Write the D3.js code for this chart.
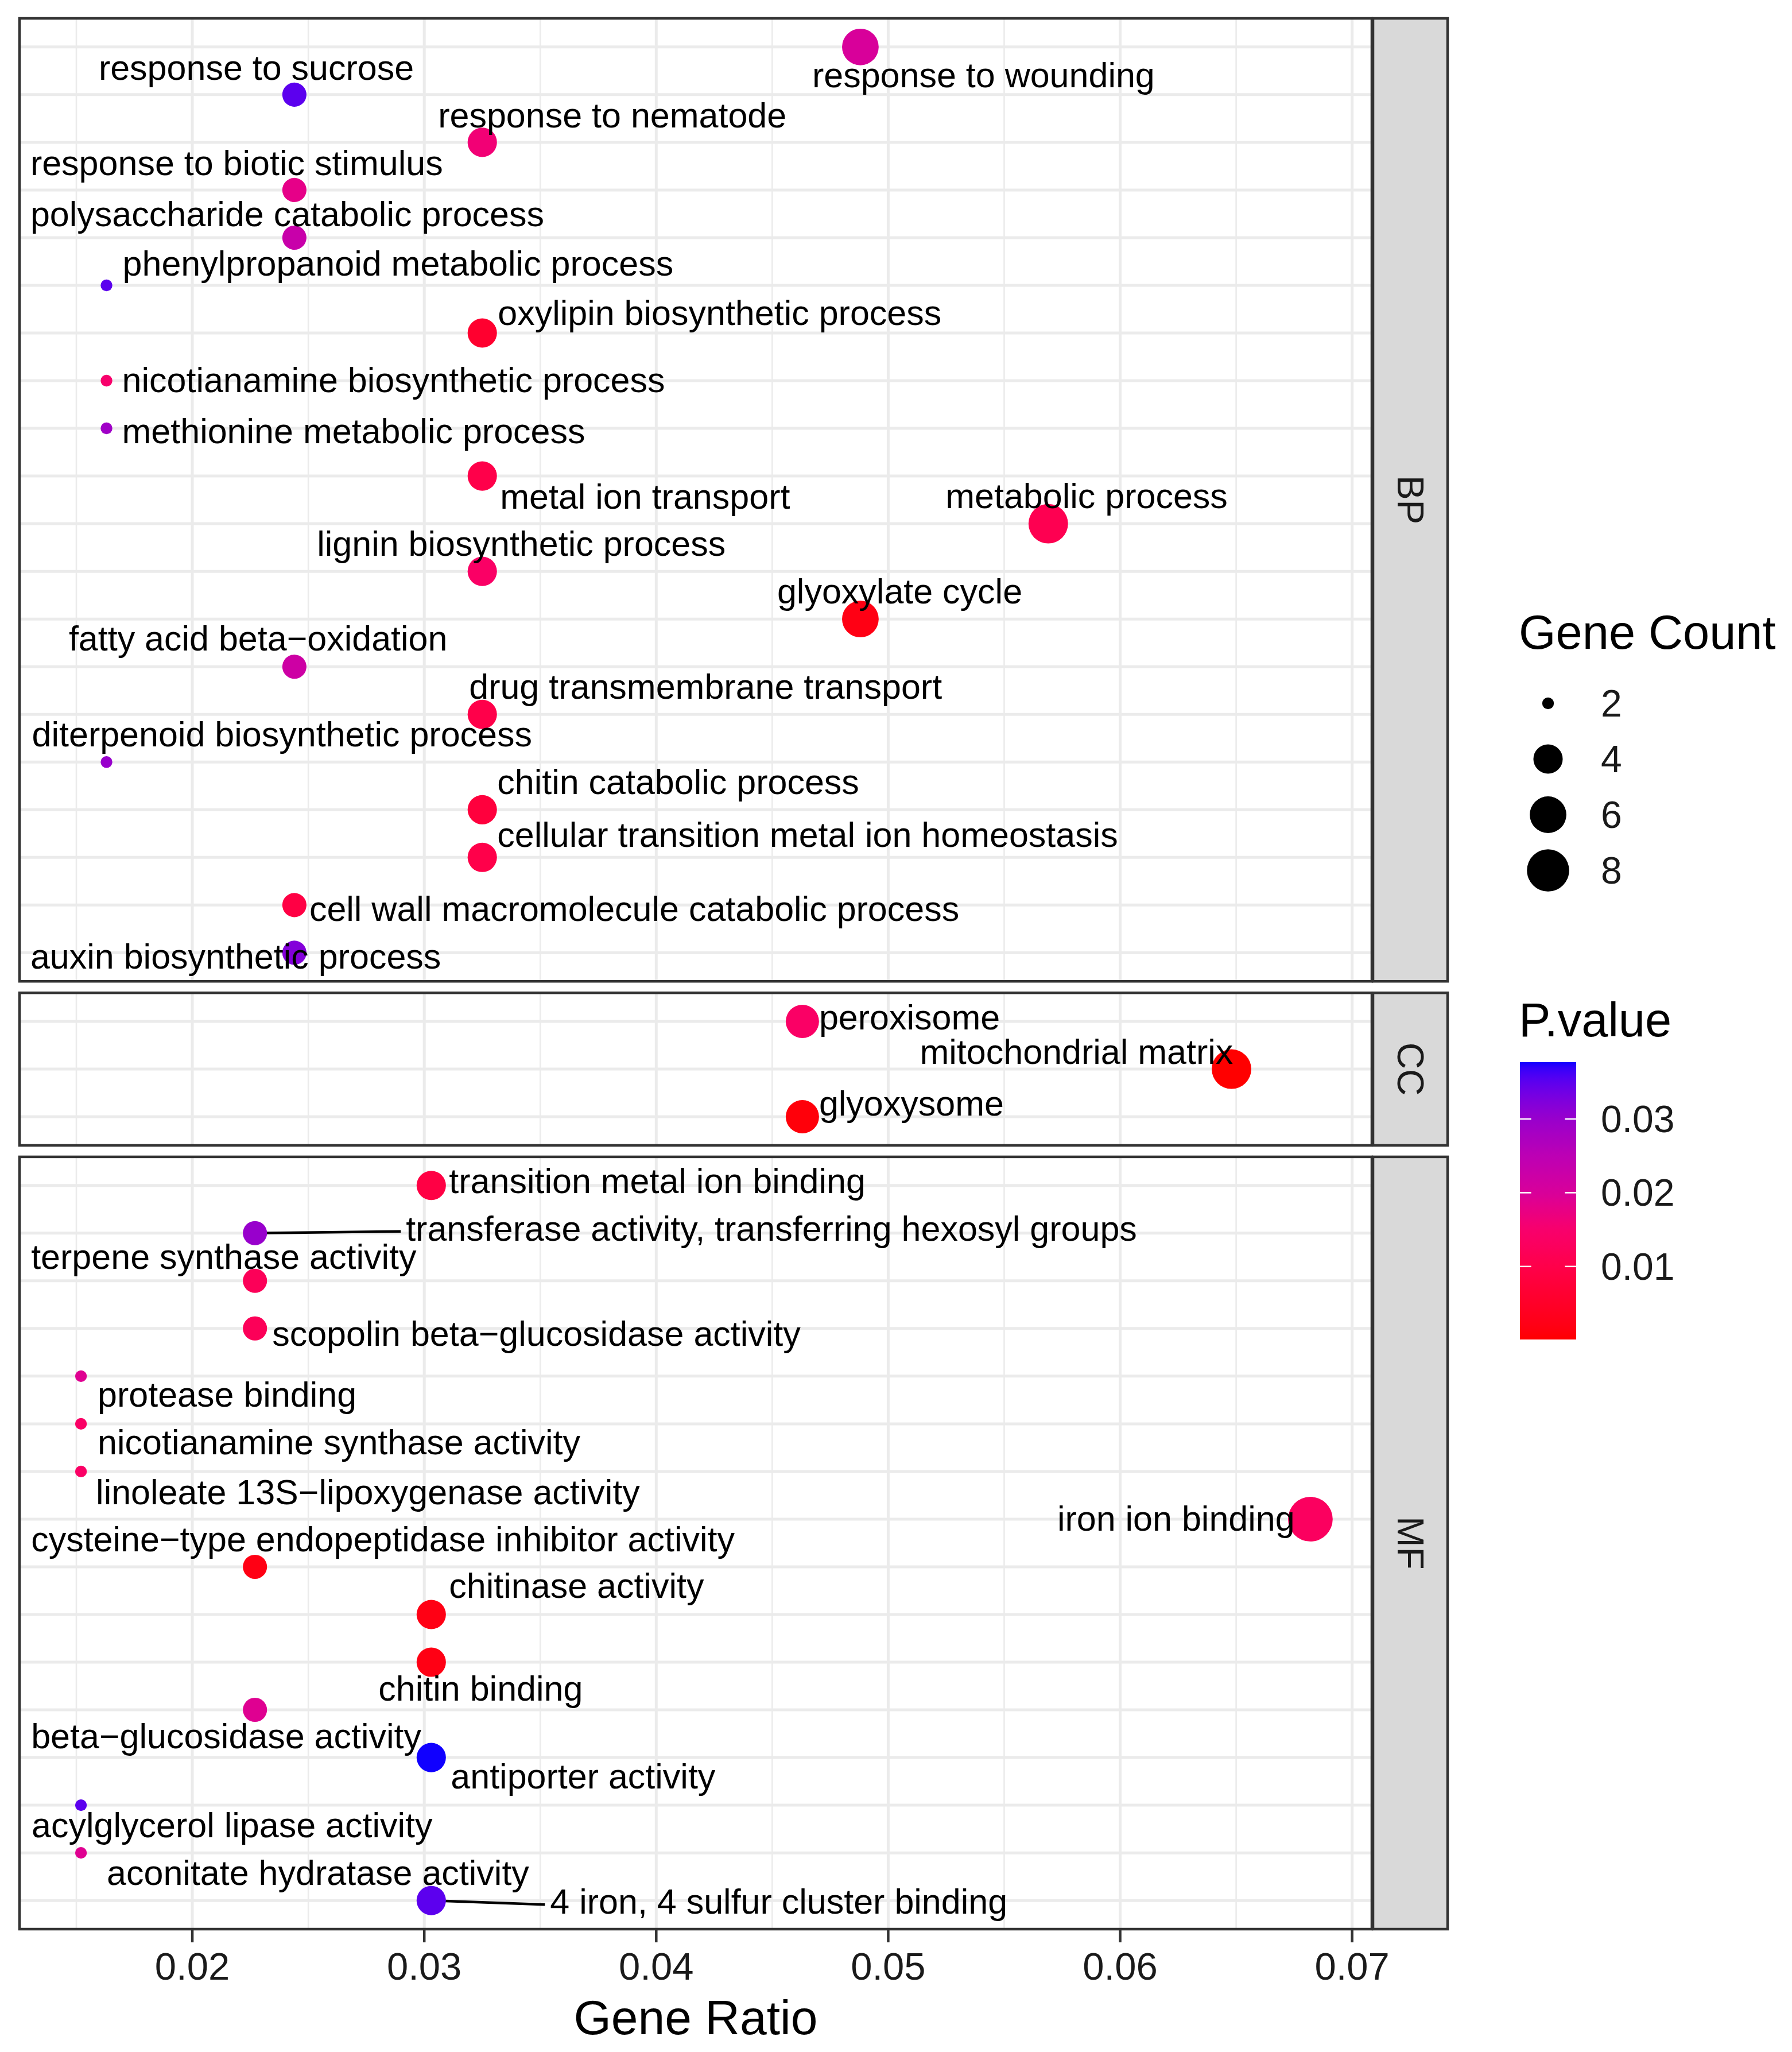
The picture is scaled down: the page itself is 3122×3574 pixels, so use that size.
<!DOCTYPE html>
<html>
<head>
<meta charset="utf-8">
<script src="https://cdn.jsdelivr.net/npm/d3@7"></script>
<style>
  body { margin: 0; background: #fff; }
  svg { display: block; }
  text { font-family: "Liberation Sans", Arial, Helvetica, sans-serif; }
</style>
</head>
<body>
<svg id="chart"></svg>
<script>
var width = 3122, height = 3574;

// ---- data ----
var ontologies = ["BP", "CC", "MF"];

var bpTerms = ["response to wounding", "response to sucrose", "response to nematode",
  "response to biotic stimulus", "polysaccharide catabolic process",
  "phenylpropanoid metabolic process", "oxylipin biosynthetic process",
  "nicotianamine biosynthetic process", "methionine metabolic process",
  "metal ion transport", "metabolic process", "lignin biosynthetic process",
  "glyoxylate cycle", "fatty acid beta\u2212oxidation", "drug transmembrane transport",
  "diterpenoid biosynthetic process", "chitin catabolic process",
  "cellular transition metal ion homeostasis", "cell wall macromolecule catabolic process",
  "auxin biosynthetic process"];
var bpCount = [6, 3, 4, 3, 3, 2, 4, 2, 2, 4, 7, 4, 6, 3, 4, 2, 4, 4, 3, 3];
var bpRatio = [0.0488, 0.0244, 0.0325, 0.0244, 0.0244, 0.0163, 0.0325, 0.0163, 0.0163, 0.0325,
  0.0569, 0.0325, 0.0488, 0.0244, 0.0325, 0.0163, 0.0325, 0.0325, 0.0244, 0.0244];
var bpPvalue = [0.020, 0.035, 0.016, 0.018, 0.023, 0.035, 0.006, 0.015, 0.029, 0.010,
  0.011, 0.014, 0.002, 0.022, 0.010, 0.030, 0.008, 0.010, 0.009, 0.032];

var ccTerms = ["peroxisome", "mitochondrial matrix", "glyoxysome"];
var ccCount = [5, 7, 5];
var ccRatio = [0.0463, 0.0648, 0.0463];
var ccPvalue = [0.014, 0.0001, 0.001];

var mfTerms = ["transition metal ion binding", "transferase activity, transferring hexosyl groups",
  "terpene synthase activity", "scopolin beta\u2212glucosidase activity", "protease binding",
  "nicotianamine synthase activity", "linoleate 13S\u2212lipoxygenase activity", "iron ion binding",
  "cysteine\u2212type endopeptidase inhibitor activity", "chitinase activity", "chitin binding",
  "beta\u2212glucosidase activity", "antiporter activity", "acylglycerol lipase activity",
  "aconitate hydratase activity", "4 iron, 4 sulfur cluster binding"];
var mfCount = [4, 3, 3, 3, 2, 2, 2, 9, 3, 4, 4, 3, 4, 2, 2, 4];
var mfRatio = [0.0303, 0.0227, 0.0227, 0.0227, 0.0152, 0.0152, 0.0152, 0.0682,
  0.0227, 0.0303, 0.0303, 0.0227, 0.0303, 0.0152, 0.0152, 0.0303];
var mfPvalue = [0.009, 0.030, 0.012, 0.012, 0.019, 0.014, 0.014, 0.013,
  0.002, 0.002, 0.002, 0.019, 0.0377, 0.035, 0.019, 0.035];

var xTicks = [0.02, 0.03, 0.04, 0.05, 0.06, 0.07];
var sizeBreaks = [2, 4, 6, 8];
var pBreaks = [0.01, 0.02, 0.03];

// colour ramp as it shows in the legend bar (red low -> blue high)
var pStopValues = [0.005, 0.010, 0.015, 0.020, 0.025, 0.030, 0.035];
var pStopColors = ["#ff0028", "#ff004a", "#f8006c", "#d8009a", "#bc00b4", "#9800cc", "#5c00ee"];
var pLowColor = "#ff0000", pHighColor = "#1000ff";

// where the repelled labels ended up, px from their point [dx, dy(baseline), segment?]
var bpLabelPos = [[-84, 70], [-341, -26], [-77, -26], [-460, -26], [-460, -20], [28, -17],
  [27, -14], [27, 20], [27, 26], [31, 57], [-179, -27], [-288, -27], [-145, -27], [-393, -28],
  [-23, -27], [-130, -27], [26, -27], [26, -18], [26, 28], [-460, 28]];
var ccLabelPos = [[29, 14], [-543, -9], [29, -2]];
var mfLabelPos = [[31, 13], [263, 13, 1], [-390, -21], [30, 30], [29, 53], [29, 53], [26, 57],
  [-441, 20], [-390, -27], [31, -29], [-92, 67], [-390, 67], [34, 54], [-86, 56], [45, 56],
  [207, 23, 1]];

// ---- build rows ----
function rows(terms, count, ratio, pv, lab) {
  return terms.map(function(t, i) {
    return {term: t, count: count[i], ratio: ratio[i], p: pv[i], lab: lab[i]};
  });
}
var facets = [
  {name: "BP", rows: rows(bpTerms, bpCount, bpRatio, bpPvalue, bpLabelPos)},
  {name: "CC", rows: rows(ccTerms, ccCount, ccRatio, ccPvalue, ccLabelPos)},
  {name: "MF", rows: rows(mfTerms, mfCount, mfRatio, mfPvalue, mfLabelPos)}
];
var all = [].concat(facets[0].rows, facets[1].rows, facets[2].rows);

var svg = d3.select("#chart").attr("width", width).attr("height", height)
  .attr("viewBox", "0 0 " + width + " " + height);
svg.append("rect").attr("width", width).attr("height", height).attr("fill", "#fff");

var panelLeft = 34, panelRight = 2390, stripRight = 2522;
var plotTop = 32, plotBottom = 3360, panelGap = 20;

// x scale, ggplot style 5% expansion
var xExt = d3.extent(all, function(d) { return d.ratio; });
var xPad = (xExt[1] - xExt[0]) * 0.05;
var x = d3.scaleLinear().domain([xExt[0] - xPad, xExt[1] + xPad]).range([panelLeft, panelRight]);

// size: area-style, rescaled sqrt like scale_size
var cExt = d3.extent(all, function(d) { return d.count; });
var sizeT = d3.scaleLinear().domain(cExt).range([0, 1]);
var rScale = d3.scaleLinear().domain([0, 1]).range([10.2, 38.9]);
function radius(c) { return rScale(Math.sqrt(sizeT(c))); }

// colour scale over the p-value range
var pExt = d3.extent(all, function(d) { return d.p; });
var color = d3.scaleLinear()
  .domain([pExt[0]].concat(pStopValues, [pExt[1]]))
  .range([pLowColor].concat(pStopColors, [pHighColor]))
  .interpolate(d3.interpolateLab).clamp(true);

// facet heights proportional to rows (space = "free_y")
var units = facets.map(function(f) { return f.rows.length - 1 + 1.2; });
var perUnit = (plotBottom - plotTop - panelGap * (facets.length - 1)) / d3.sum(units);
var yCursor = plotTop;
facets.forEach(function(f, i) {
  f.top = yCursor;
  f.bottom = yCursor + units[i] * perUnit;
  yCursor = f.bottom + panelGap;
  f.y = d3.scalePoint().domain(f.rows.map(function(d) { return d.term; }))
    .range([f.top, f.bottom]).padding(0.6);
});

var minorTicks = d3.range(xTicks[0] - 0.005, xTicks[xTicks.length - 1] + 0.0051, 0.01)
  .filter(function(v) { return v > x.domain()[0] && v < x.domain()[1]; });

var labelFont = 61;

facets.forEach(function(f) {
  var g = svg.append("g");
  // grid
  g.selectAll(".minor").data(minorTicks).enter().append("line")
    .attr("x1", function(d) { return x(d); }).attr("x2", function(d) { return x(d); })
    .attr("y1", f.top).attr("y2", f.bottom)
    .attr("stroke", "#EBEBEB").attr("stroke-width", 2.6);
  g.selectAll(".major").data(xTicks).enter().append("line")
    .attr("x1", function(d) { return x(d); }).attr("x2", function(d) { return x(d); })
    .attr("y1", f.top).attr("y2", f.bottom)
    .attr("stroke", "#EBEBEB").attr("stroke-width", 5);
  g.selectAll(".hgrid").data(f.rows).enter().append("line")
    .attr("x1", panelLeft).attr("x2", panelRight)
    .attr("y1", function(d) { return f.y(d.term); }).attr("y2", function(d) { return f.y(d.term); })
    .attr("stroke", "#EBEBEB").attr("stroke-width", 5);

  // repel segments
  g.selectAll(".seg").data(f.rows.filter(function(d) { return d.lab[2]; })).enter().append("line")
    .attr("x1", function(d) { return x(d.ratio); })
    .attr("y1", function(d) { return f.y(d.term); })
    .attr("x2", function(d) { return x(d.ratio) + d.lab[0] - 9; })
    .attr("y2", function(d) { return f.y(d.term) + d.lab[1] - 16; })
    .attr("stroke", "#000").attr("stroke-width", 4.5);

  // points
  g.selectAll(".pt").data(f.rows).enter().append("circle")
    .attr("cx", function(d) { return x(d.ratio); })
    .attr("cy", function(d) { return f.y(d.term); })
    .attr("r", function(d) { return radius(d.count); })
    .attr("fill", function(d) { return color(d.p); });

  // labels
  g.selectAll(".lab").data(f.rows).enter().append("text")
    .attr("x", function(d) { return x(d.ratio) + d.lab[0]; })
    .attr("y", function(d) { return f.y(d.term) + d.lab[1]; })
    .attr("font-size", labelFont).attr("fill", "#000")
    .text(function(d) { return d.term; });

  // panel border
  g.append("rect").attr("x", panelLeft).attr("y", f.top)
    .attr("width", panelRight - panelLeft).attr("height", f.bottom - f.top)
    .attr("fill", "none").attr("stroke", "#333333").attr("stroke-width", 4.5);

  // strip
  g.append("rect").attr("x", panelRight + 2).attr("y", f.top)
    .attr("width", stripRight - panelRight - 2).attr("height", f.bottom - f.top)
    .attr("fill", "#D9D9D9").attr("stroke", "#333333").attr("stroke-width", 4.5);
  var sx = (panelRight + 2 + stripRight) / 2, sy = (f.top + f.bottom) / 2;
  g.append("text").attr("transform", "translate(" + sx + "," + sy + ") rotate(90)")
    .attr("text-anchor", "middle").attr("dominant-baseline", "central")
    .attr("font-size", 64).attr("fill", "#1A1A1A").text(f.name);
});

// x axis
var axisY = facets[facets.length - 1].bottom;
var ax = svg.append("g");
ax.selectAll(".tick").data(xTicks).enter().append("line")
  .attr("x1", function(d) { return x(d); }).attr("x2", function(d) { return x(d); })
  .attr("y1", axisY).attr("y2", axisY + 23)
  .attr("stroke", "#333333").attr("stroke-width", 4.5);
ax.selectAll(".tl").data(xTicks).enter().append("text")
  .attr("x", function(d) { return x(d); }).attr("y", axisY + 88)
  .attr("text-anchor", "middle").attr("font-size", 67).attr("fill", "#1A1A1A")
  .text(function(d) { return d3.format(".2f")(d); });
ax.append("text").attr("x", (panelLeft + panelRight) / 2).attr("y", 3543)
  .attr("text-anchor", "middle").attr("font-size", 84).attr("fill", "#000")
  .text("Gene Ratio");

// legend: gene count
var lg = svg.append("g");
var legX = 2646;
lg.append("text").attr("x", legX).attr("y", 1130).attr("font-size", 83).text("Gene Count");
lg.selectAll(".sk").data(sizeBreaks).enter().append("circle")
  .attr("cx", 2697).attr("cy", function(d, i) { return 1225 + i * 97; })
  .attr("r", function(d) { return radius(d); }).attr("fill", "#000");
lg.selectAll(".sl").data(sizeBreaks).enter().append("text")
  .attr("x", 2789).attr("y", function(d, i) { return 1225 + i * 97; })
  .attr("dominant-baseline", "central").attr("font-size", 66).attr("fill", "#1A1A1A")
  .text(function(d) { return d; });

// legend: P.value colourbar
lg.append("text").attr("x", legX).attr("y", 1805).attr("font-size", 83).text("P.value");
var barX = 2648, barW = 98, barTop = 1850, barBottom = 2333;
var barY = d3.scaleLinear().domain(pExt).range([barBottom, barTop]);
var grad = svg.append("defs").append("linearGradient").attr("id", "pgrad")
  .attr("x1", 0).attr("y1", 1).attr("x2", 0).attr("y2", 0);
grad.selectAll("stop").data(d3.range(0, 1.0001, 0.02)).enter().append("stop")
  .attr("offset", function(t) { return t; })
  .attr("stop-color", function(t) { return color(pExt[0] + t * (pExt[1] - pExt[0])); });
lg.append("rect").attr("x", barX).attr("y", barTop).attr("width", barW)
  .attr("height", barBottom - barTop).attr("fill", "url(#pgrad)");
pBreaks.forEach(function(b) {
  var yy = barY(b);
  lg.append("line").attr("x1", barX).attr("x2", barX + barW / 5).attr("y1", yy).attr("y2", yy)
    .attr("stroke", "#fff").attr("stroke-width", 2.5);
  lg.append("line").attr("x1", barX + barW * 4 / 5).attr("x2", barX + barW).attr("y1", yy).attr("y2", yy)
    .attr("stroke", "#fff").attr("stroke-width", 2.5);
});
lg.selectAll(".pl").data(pBreaks).enter().append("text")
  .attr("x", 2789).attr("y", function(d) { return barY(d); })
  .attr("dominant-baseline", "central").attr("font-size", 66).attr("fill", "#1A1A1A")
  .text(function(d) { return d3.format(".2f")(d); });
</script>
</body>
</html>
